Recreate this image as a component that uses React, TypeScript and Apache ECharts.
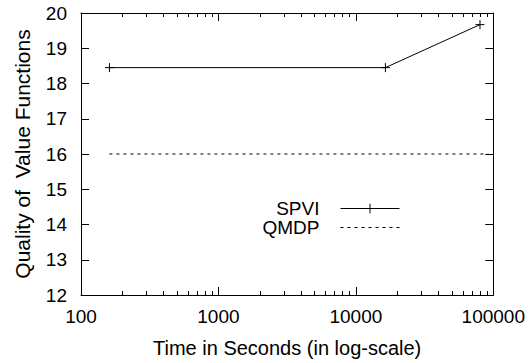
import React, { useEffect, useRef } from "react";
import * as echarts from "echarts";

const seriesNames = ["SPVI", "QMDP"];
const spviPoints: [number, number][] = [
  [161, 18.45],
  [16400, 18.45],
  [80000, 19.67],
];
const qmdpPoints: [number, number][] = [
  [161, 16],
  [92000, 16],
];
const xRange = [100, 100000];
const yRange = [12, 20];
const xTitle = "Time in Seconds (in log-scale)";
const yTitle = "Quality of  Value Functions";

const FONT = "'Liberation Sans', Arial, sans-serif";
const PLUS = "path://M5,0 L5,10 M0,5 L10,5";
const BLANK = "path://M0,0 L10,0 L10,10 L0,10 Z";

export default function App() {
  const ref = useRef<HTMLDivElement>(null);
  useEffect(() => {
    if (!ref.current) return;
    const chart = echarts.init(ref.current, undefined, { renderer: "svg" });
    const axisLine = { show: true, lineStyle: { color: "#000", width: 1 } };
    const xCommon = {
      type: "log" as const,
      logBase: 10,
      min: xRange[0],
      max: xRange[1],
      axisLine,
      axisTick: { show: true, inside: true, length: 8, lineStyle: { color: "#000" } },
      minorTick: { show: true, splitNumber: 9, length: 4, lineStyle: { color: "#000" } },
      splitLine: { show: false },
      minorSplitLine: { show: false },
    };
    const yCommon = {
      type: "value" as const,
      min: yRange[0],
      max: yRange[1],
      interval: 1,
      axisLine,
      axisTick: { show: true, inside: true, length: 8, lineStyle: { color: "#000" } },
      splitLine: { show: false },
    };
    chart.setOption({
      animation: false,
      backgroundColor: "#fff",
      textStyle: { fontFamily: FONT },
      grid: { left: 81, right: 34, top: 13, bottom: 68, containLabel: false },
      legend: {
        orient: "vertical",
        right: 123,
        top: 194,
        align: "right",
        itemWidth: 59,
        itemHeight: 12,
        itemGap: 0,
        lineStyle: { width: 1 },
        data: [
          {
            name: seriesNames[0],
            itemStyle: { color: "none", borderColor: "#000", borderWidth: 1 },
          },
          {
            name: seriesNames[1],
            itemStyle: { color: "none", borderColor: "none", borderWidth: 0 },
          },
        ],
        textStyle: {
          fontFamily: FONT,
          fontSize: 19,
          color: "#000",
          padding: [0, 16, 0, 0],
        },
      },
      xAxis: [
        {
          ...xCommon,
          position: "bottom",
          name: xTitle,
          nameLocation: "middle",
          nameGap: 43,
          nameTextStyle: { fontFamily: FONT, fontSize: 20, color: "#000" },
          axisLabel: {
            fontFamily: FONT,
            fontSize: 19,
            color: "#000",
            margin: 12,
            formatter: (v: number) => String(Math.round(v)),
          },
        },
        {
          ...xCommon,
          position: "top",
          axisLabel: { show: false },
        },
      ],
      yAxis: [
        {
          ...yCommon,
          position: "left",
          name: yTitle,
          nameLocation: "middle",
          nameGap: 48,
          nameTextStyle: { fontFamily: FONT, fontSize: 21, color: "#000" },
          axisLabel: { fontFamily: FONT, fontSize: 19, color: "#000", margin: 14 },
        },
        {
          ...yCommon,
          position: "right",
          axisLabel: { show: false },
        },
      ],
      series: [
        {
          name: seriesNames[0],
          type: "line",
          data: spviPoints,
          symbol: PLUS,
          symbolSize: 9,
          showSymbol: true,
          lineStyle: { color: "#000", width: 1 },
          itemStyle: { color: "none", borderColor: "#000", borderWidth: 1 },
        },
        {
          name: seriesNames[1],
          type: "line",
          data: qmdpPoints,
          symbol: BLANK,
          symbolSize: 6,
          showSymbol: false,
          lineStyle: { color: "#000", width: 1, type: [3, 4] },
          itemStyle: { color: "none", borderColor: "none", borderWidth: 0 },
        },
      ],
    });
    return () => chart.dispose();
  }, []);
  return <div ref={ref} style={{ width: 528, height: 363, position: "absolute", left: 0, top: 0 }} />;
}
